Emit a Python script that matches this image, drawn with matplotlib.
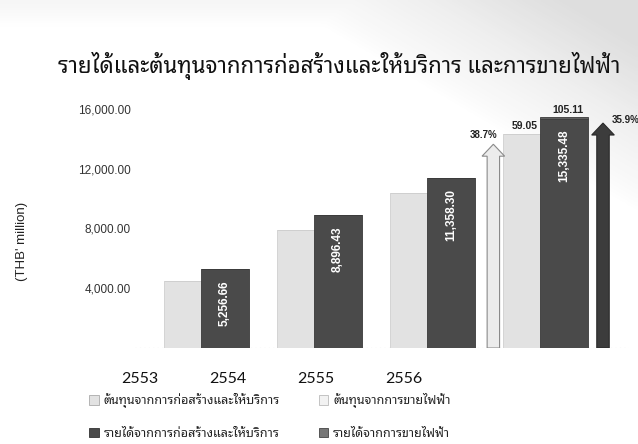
import matplotlib
matplotlib.use('Agg')
import matplotlib.pyplot as plt
from matplotlib.ticker import FuncFormatter
from matplotlib.patches import Patch
import numpy as np

# ---- data ----
years = ['2553', '2554', '2555', '2556']
cost_construction = [4470, 7900, 10350, 14296]
cost_electricity = [0, 0, 0, 59.05]
rev_construction = [5256.66, 8896.43, 11358.30, 15335.48]
rev_electricity = [0, 0, 0, 105.11]
cost_growth = '38.7%'
rev_growth = '35.9%'
yticks = [4000, 8000, 12000, 16000]

title = 'รายได้และต้นทุนจากการก่อสร้างและให้บริการ และการขายไฟฟ้า'
legend_labels = ['ต้นทุนจากการก่อสร้างและให้บริการ', 'รายได้จากการก่อสร้างและให้บริการ',
                 'ต้นทุนจากการขายไฟฟ้า', 'รายได้จากการขายไฟฟ้า']

THAI = ['Noto Sans Thai Looped', 'DejaVu Sans']
W, H = 638, 444

fig = plt.figure(figsize=(W / 100, H / 100), dpi=100)
fig.patch.set_facecolor('white')

def fx(px):
    return px / W

def fy(py):
    return 1 - py / H

# faint scanned-paper shading in the top-right corner (background decoration)
axbg = fig.add_axes([0, 0, 1, 1], zorder=-5)
gx, gy = np.meshgrid(np.linspace(0, 1, 160), np.linspace(0, 1, 110))
shade = np.clip(1.25 - ((1 - gx) / 0.45 + gy / 0.38), 0, 1) ** 0.8
shade = np.maximum(shade, np.clip(1 - gy / 0.06, 0, 1) * 0.35)
axbg.imshow(shade, cmap='Greys', vmin=0, vmax=4.5, aspect='auto', extent=(0, 1, 1, 0),
            interpolation='bilinear')
axbg.set_xlim(0, 1)
axbg.set_ylim(1, 0)
axbg.axis('off')

# main axes
ax_l, ax_r, ax_b, ax_t = 135, 629, 348, 94
ax = fig.add_axes([fx(ax_l), fy(ax_b), fx(ax_r - ax_l), (ax_b - ax_t) / H])
ax.patch.set_visible(False)
ax.set_xlim(-0.62, 3.75)
ax.set_ylim(0, 17000)
for s in ax.spines.values():
    s.set_visible(False)

x = np.arange(len(years))
light_off, light_w = -0.2, 0.33
dark_off, dark_w = 0.175, 0.42
c_light = '#e2e2e2'
c_light2 = '#f2f2f2'
c_dark = '#4a4a4a'
c_dark2 = '#5e5e5e'

ax.axhline(0, color='#b0b0b0', lw=0.8, ls=(0, (1, 3)), zorder=1)

ax.bar(x + light_off, cost_construction, light_w, color=c_light, edgecolor='#cfcfcf', lw=0.6, zorder=2)
ax.bar(x + light_off, cost_electricity, light_w, bottom=cost_construction, color=c_light2, edgecolor='#cfcfcf', lw=0.6, zorder=2)
ax.bar(x + dark_off, rev_construction, dark_w, color=c_dark, edgecolor='#3a3a3a', lw=0.6, zorder=2)
ax.bar(x + dark_off, rev_electricity, dark_w, bottom=rev_construction, color=c_dark2, edgecolor='#3a3a3a', lw=0.6, zorder=2)

# value labels inside dark bars
for xi, v in zip(x, rev_construction):
    ax.annotate(f'{v:,.2f}', (xi + dark_off, v), xytext=(0, -8), textcoords='offset points',
                rotation=90, ha='center', va='top', color='white', fontsize=8.5,
                fontweight='bold', family='Liberation Sans', zorder=4)

cost_total = [a + b for a, b in zip(cost_construction, cost_electricity)]
rev_total = [a + b for a, b in zip(rev_construction, rev_electricity)]
ax.annotate(f'{cost_electricity[-1]:.2f}', (x[-1] + light_off, cost_total[-1]), xytext=(2, 2),
            textcoords='offset points', ha='center', va='bottom', fontsize=7.5,
            fontweight='bold', color='#222222', family='Liberation Sans')
ax.annotate(f'{rev_electricity[-1]:.2f}', (x[-1] + dark_off, rev_total[-1]), xytext=(3, 2),
            textcoords='offset points', ha='center', va='bottom', fontsize=7.5,
            fontweight='bold', color='#222222', family='Liberation Sans')

# growth arrows
ax_light_x = x[-1] - 0.45
ax_dark_x = x[-1] + 0.52
la_top = cost_total[-1] * 0.95
da_top = rev_total[-1] * 0.975
hl = 800
ax.arrow(ax_light_x, 0, 0, la_top - hl, width=0.11, head_width=0.2, head_length=hl,
         length_includes_head=False, fc='#ececec', ec='#8a8a8a', lw=0.8, zorder=3)
ax.arrow(ax_dark_x, 0, 0, da_top - hl, width=0.11, head_width=0.2, head_length=hl,
         length_includes_head=False, fc='#3c3c3c', ec='#2a2a2a', lw=0.8, zorder=3)
ax.annotate(cost_growth, (ax_light_x, la_top), xytext=(-7, 3), textcoords='offset points',
            ha='center', va='bottom', fontsize=7, fontweight='bold', color='#222222',
            family='Liberation Sans')
ax.annotate(rev_growth, (ax_dark_x, da_top), xytext=(6, 2), textcoords='offset points',
            ha='left', va='center', fontsize=7, fontweight='bold', color='#222222',
            family='Liberation Sans', annotation_clip=False)

# y axis
ax.set_xticks([])
ax.set_yticks(yticks)
ax.yaxis.set_major_formatter(FuncFormatter(lambda v, p: f'{v:,.2f}'))
ax.tick_params(axis='y', length=0, pad=3, labelsize=8.5, labelcolor='#333333')
for t in ax.get_yticklabels():
    t.set_family('Liberation Sans')

fig.text(fx(22), fy(241), "(THB' million)", rotation=90, ha='center', va='center',
         fontsize=9.5, family='Liberation Sans', color='#222222')

# category labels (separate axis, perspective offset)
axc = fig.add_axes([fx(96), fy(372), fx(352), 0.001])
axc.set_xlim(-0.5, 3.5)
axc.set_ylim(0, 1)
axc.set_yticks([])
axc.set_xticks(range(len(years)))
axc.set_xticklabels(years)
axc.tick_params(axis='x', length=0, pad=0, labelsize=11.5, labelcolor='#111111')
for t in axc.get_xticklabels():
    t.set_family('Lato')
for s in axc.spines.values():
    s.set_visible(False)
axc.patch.set_visible(False)

# title
fig.text(fx(339), fy(66), title, ha='center', va='center', fontsize=16,
         fontweight='bold', family=THAI, color='#111111')

# legend
handles = [Patch(fc=c_light, ec='#aaaaaa', lw=0.6), Patch(fc=c_dark, ec='#333333', lw=0.6),
           Patch(fc=c_light2, ec='#bbbbbb', lw=0.6), Patch(fc='#777777', ec='#444444', lw=0.6)]
leg = fig.legend(handles, legend_labels, loc='upper left', bbox_to_anchor=(fx(78), fy(382)),
                 ncol=2, frameon=False, handlelength=0.75, handleheight=0.75,
                 handletextpad=0.4, columnspacing=3.1, labelspacing=1.5,
                 prop={'family': THAI, 'size': 9})
for t in leg.get_texts():
    t.set_color('#222222')

fig.savefig('out.png', dpi=100)
